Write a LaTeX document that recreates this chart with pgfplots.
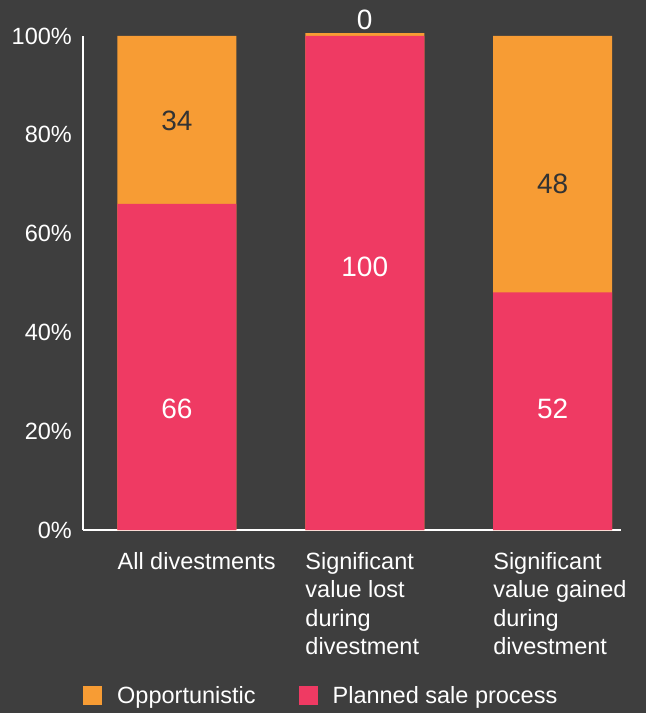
\documentclass[border=0pt]{standalone}
\usepackage{pgfplots}
\pgfplotsset{compat=1.18}
\usepackage{fontspec}
\setmainfont{Liberation Sans}
\definecolor{bg}{HTML}{3E3E3E}
\definecolor{orng}{HTML}{F79C34}
\definecolor{pnk}{HTML}{EF3A63}
\definecolor{dtext}{HTML}{333333}
\pgfplotsset{sqleg/.style={legend image code/.code={\fill[##1] (0bp,-9.5bp) rectangle (19bp,9.5bp);}}}
\begin{document}
\begin{tikzpicture}
\fill[bg] (0,0) rectangle (646bp,713bp);
\begin{axis}[
  at={(83bp,183bp)}, anchor=south west,
  scale only axis, width=538bp, height=494bp,
  xmin=-0.5, xmax=2.364, ymin=0, ymax=100, clip=false,
  axis x line*=bottom, axis y line*=left,
  axis line style={white, line width=1.2bp, -},
  major tick length=0pt, tick style={draw=none},
  xtick={0,1,2},
  xticklabels={All divestments, {Significant\\value lost\\during\\divestment}, {Significant\\value gained\\during\\divestment}},
  ytick={0,20,40,60,80,100},
  yticklabel={\pgfmathprintnumber{\tick}\%},
  /pgf/number format/assume math mode=true,
  ticklabel style={font=\fontsize{23.5bp}{28.5bp}\selectfont, text=white},
  yticklabel style={inner sep=0pt, anchor=east, xshift=-11bp},
  xticklabel style={inner sep=0pt, anchor=north west, xshift=-59.5bp, yshift=-22bp, align=left},
  legend columns=2,
  legend style={at={(0,-0.335)}, anchor=west, draw=none, fill=none, inner sep=0pt,
    font=\fontsize{23.5bp}{28.5bp}\selectfont, text=white,
    nodes={inner sep=0pt},
    /tikz/every odd column/.append style={column sep=15bp},
    /tikz/every even column/.append style={column sep=43bp}},
]
\addplot[ybar, bar width=119bp, bar shift=0pt, fill=orng, draw=none, sqleg] coordinates {(0,100) (1,100.6) (2,100)};
\addlegendentry{Opportunistic}
\addplot[ybar, bar width=119bp, bar shift=0pt, fill=pnk, draw=none, sqleg] coordinates {(0,66) (1,100) (2,48.1)};
\addlegendentry{Planned sale process}
\addplot[draw=none, forget plot, nodes near coords, point meta=explicit symbolic,
  nodes near coords style={anchor=center, font=\fontsize{28bp}{32bp}\selectfont, text=dtext}]
  table[meta=lab] {
x y lab
0 82.8 34
2 70.0 48
};
\addplot[draw=none, forget plot, nodes near coords, point meta=explicit symbolic,
  nodes near coords style={anchor=center, font=\fontsize{28bp}{32bp}\selectfont, text=white}]
  table[meta=lab] {
x y lab
0 24.5 66
1 53.2 100
2 24.5 52
1 103.2 0
};
\end{axis}
\end{tikzpicture}
\end{document}
